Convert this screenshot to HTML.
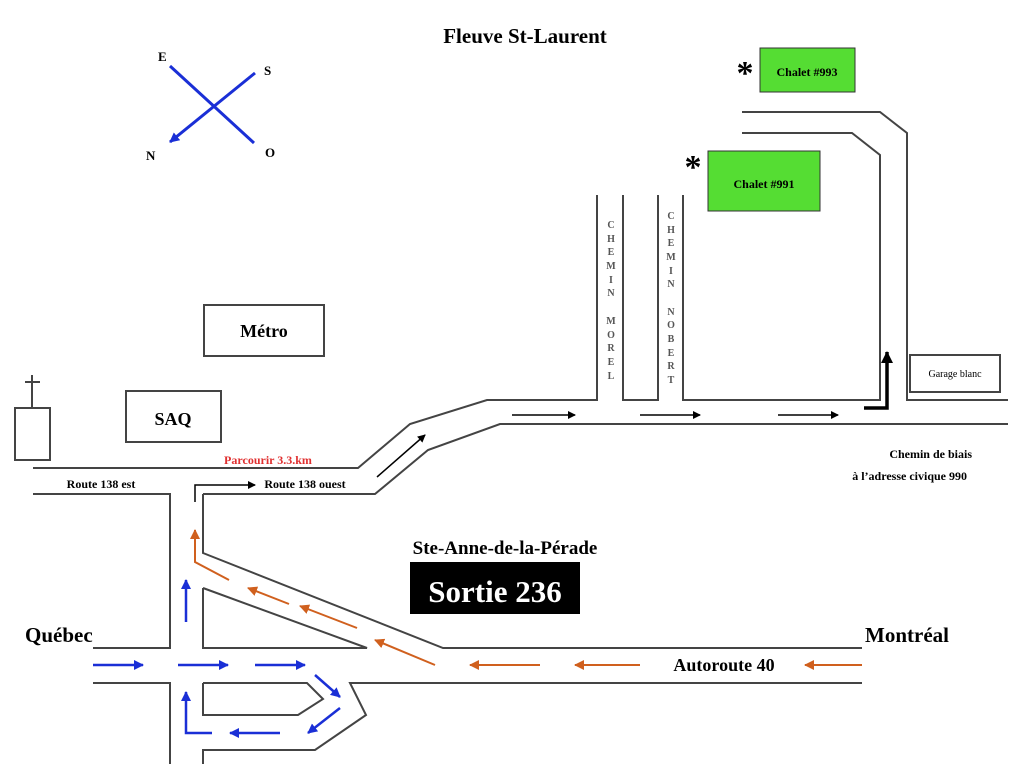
<!DOCTYPE html>
<html><head><meta charset="utf-8"><style>
html,body{margin:0;padding:0;background:#fff;}
svg{display:block;font-family:"Liberation Serif",serif;font-weight:bold;}
</style></head><body>
<svg width="1024" height="764" viewBox="0 0 1024 764" xmlns="http://www.w3.org/2000/svg">
<defs>
<marker id="ab" markerWidth="8" markerHeight="8" refX="7" refY="4" orient="auto" markerUnits="userSpaceOnUse"><path d="M0,0 L8,4 L0,8 Z" fill="#000"/></marker>
<marker id="abl" markerWidth="10" markerHeight="10" refX="9" refY="5" orient="auto" markerUnits="userSpaceOnUse"><path d="M0,0 L10,5 L0,10 Z" fill="#1a2fd6"/></marker>
<marker id="ao" markerWidth="10" markerHeight="10" refX="9" refY="5" orient="auto" markerUnits="userSpaceOnUse"><path d="M0,0 L10,5 L0,10 Z" fill="#d0601e"/></marker>
<marker id="ak" markerWidth="12" markerHeight="12" refX="11" refY="6" orient="auto" markerUnits="userSpaceOnUse"><path d="M0,0 L12,6 L0,12 Z" fill="#000"/></marker>
</defs>

<text x="525" y="43" font-size="21" text-anchor="middle">Fleuve St-Laurent</text>

<!-- compass -->
<g stroke="#1a2fd6" stroke-width="3" fill="none">
<line x1="170" y1="66" x2="254" y2="143"/>
<line x1="255" y1="73" x2="170" y2="142" marker-end="url(#abl)"/>
</g>
<text x="158" y="61" font-size="13">E</text>
<text x="264" y="75" font-size="13">S</text>
<text x="146" y="160" font-size="13">N</text>
<text x="265" y="157" font-size="13">O</text>

<g fill="none" stroke="#444" stroke-width="2">
<rect x="204" y="305" width="120" height="51"/>
<rect x="126" y="391" width="95" height="51"/>
<rect x="15" y="408" width="35" height="52"/>
<line x1="32" y1="375" x2="32" y2="408"/>
<line x1="25" y1="382" x2="40" y2="382"/>
<rect x="910" y="355" width="90" height="37"/>

<polyline points="33,468 358,468 410,424 487,400 597,400 597,195"/>
<polyline points="623,195 623,400 658,400 658,195"/>
<polyline points="683,195 683,400 880,400 880,155 852,133 742,133"/>
<polyline points="742,112 880,112 907,133 907,400 1008,400"/>
<polyline points="203,494 375,494 428,450 500,424 1008,424"/>
<polyline points="33,494 170,494 170,648 93,648"/>
<polyline points="93,683 170,683 170,764"/>
<polyline points="203,494 203,553 443,648 862,648"/>
<polyline points="203,588 367,648 203,648 203,588"/>
<polyline points="203,683 307,683 323,699 298,715 203,715 203,683"/>
<polyline points="862,683 350,683 366,715 315,750 203,750 203,764"/>
</g>

<text x="264" y="337" font-size="18" text-anchor="middle">Métro</text>
<text x="173" y="425" font-size="18" text-anchor="middle">SAQ</text>
<text x="955" y="377" font-size="10" text-anchor="middle" font-weight="normal">Garage blanc</text>

<rect x="760" y="48" width="95" height="44" fill="#55dd33" stroke="#333" stroke-width="1"/>
<text x="807" y="76" font-size="12" text-anchor="middle">Chalet #993</text>
<text x="745" y="84" font-size="34" text-anchor="middle">*</text>
<rect x="708" y="151" width="112" height="60" fill="#55dd33" stroke="#333" stroke-width="1"/>
<text x="764" y="188" font-size="12" text-anchor="middle">Chalet #991</text>
<text x="693" y="178" font-size="34" text-anchor="middle">*</text>

<g font-size="10" fill="#555" text-anchor="middle">
<text x="611" y="228">C</text><text x="611" y="242">H</text><text x="611" y="255">E</text><text x="611" y="269">M</text><text x="611" y="283">I</text><text x="611" y="296">N</text>
<text x="611" y="324">M</text><text x="611" y="338">O</text><text x="611" y="351">R</text><text x="611" y="365">E</text><text x="611" y="379">L</text>
<text x="671" y="219">C</text><text x="671" y="233">H</text><text x="671" y="246">E</text><text x="671" y="260">M</text><text x="671" y="274">I</text><text x="671" y="287">N</text>
<text x="671" y="315">N</text><text x="671" y="328">O</text><text x="671" y="342">B</text><text x="671" y="356">E</text><text x="671" y="369">R</text><text x="671" y="383">T</text>
</g>

<g stroke="#000" stroke-width="1.5" fill="none">
<line x1="512" y1="415" x2="575" y2="415" marker-end="url(#ab)"/>
<line x1="640" y1="415" x2="700" y2="415" marker-end="url(#ab)"/>
<line x1="778" y1="415" x2="838" y2="415" marker-end="url(#ab)"/>
<line x1="377" y1="477" x2="425" y2="435" marker-end="url(#ab)"/>
<polyline points="195,502 195,485 255,485" marker-end="url(#ab)"/>
</g>
<polyline points="864,408 887,408 887,352" stroke="#000" stroke-width="3.5" fill="none" marker-end="url(#ak)"/>

<text x="972" y="458" font-size="12" text-anchor="end">Chemin de biais</text>
<text x="967" y="480" font-size="12" text-anchor="end">à l’adresse civique 990</text>

<text x="268" y="464" font-size="12" fill="#e03030" text-anchor="middle">Parcourir 3.3.km</text>
<text x="101" y="488" font-size="12" text-anchor="middle">Route 138 est</text>
<text x="305" y="488" font-size="12" text-anchor="middle">Route 138 ouest</text>

<text x="505" y="554" font-size="19" text-anchor="middle">Ste-Anne-de-la-Pérade</text>
<rect x="410" y="562" width="170" height="52" fill="#000"/>
<text x="495" y="602" font-size="31" fill="#fff" text-anchor="middle">Sortie 236</text>

<text x="25" y="642" font-size="21">Québec</text>
<text x="865" y="642" font-size="21">Montréal</text>
<text x="724" y="671" font-size="18" text-anchor="middle">Autoroute 40</text>

<g stroke="#1a2fd6" stroke-width="2.5" fill="none">
<line x1="93" y1="665" x2="143" y2="665" marker-end="url(#abl)"/>
<line x1="178" y1="665" x2="228" y2="665" marker-end="url(#abl)"/>
<line x1="255" y1="665" x2="305" y2="665" marker-end="url(#abl)"/>
<line x1="315" y1="675" x2="340" y2="697" marker-end="url(#abl)"/>
<line x1="340" y1="708" x2="308" y2="733" marker-end="url(#abl)"/>
<line x1="280" y1="733" x2="230" y2="733" marker-end="url(#abl)"/>
<polyline points="212,733 186,733 186,692" marker-end="url(#abl)"/>
<line x1="186" y1="622" x2="186" y2="580" marker-end="url(#abl)"/>
</g>
<g stroke="#d0601e" stroke-width="2" fill="none">
<polyline points="229,580 195,562 195,530" marker-end="url(#ao)"/>
<line x1="289" y1="604" x2="248" y2="588" marker-end="url(#ao)"/>
<line x1="357" y1="628" x2="300" y2="606" marker-end="url(#ao)"/>
<line x1="435" y1="665" x2="375" y2="640" marker-end="url(#ao)"/>
<line x1="540" y1="665" x2="470" y2="665" marker-end="url(#ao)"/>
<line x1="640" y1="665" x2="575" y2="665" marker-end="url(#ao)"/>
<line x1="862" y1="665" x2="805" y2="665" marker-end="url(#ao)"/>
</g>
</svg>
</body></html>
